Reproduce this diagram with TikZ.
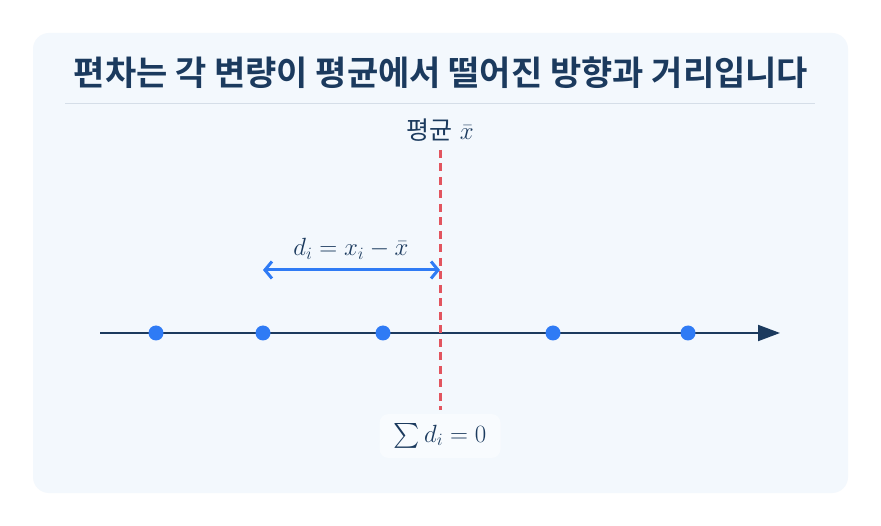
\documentclass[tikz,border=0pt]{standalone}
\usepackage{amsmath}
\usepackage{fontspec}
\newfontfamily\krb{Noto Sans CJK KR Bold}
\newfontfamily\kr{Noto Sans CJK KR}
\usetikzlibrary{arrows.meta}
\definecolor{navy}{HTML}{1B3A5E}
\definecolor{panel}{HTML}{F3F8FD}
\definecolor{sep}{HTML}{D5DEE8}
\definecolor{dotblue}{HTML}{2F7BF5}
\definecolor{meanred}{HTML}{E2555F}
\begin{document}
\begin{tikzpicture}[x=1pt,y=-1pt,
  dotpt/.style={circle,fill=dotblue,inner sep=0pt,minimum size=15pt},
  lbl/.style={text=navy,inner sep=0pt}]
\useasboundingbox (0,0) rectangle (881,526);
\fill[white] (0,0) rectangle (881,526);
\fill[panel,rounded corners=16pt] (33,33) rectangle (848,493);
\node[lbl,font=\krb\fontsize{34}{40}\selectfont] (title) at (441,73) {편차는 각 변량이 평균에서 떨어진 방향과 거리입니다};
\draw[sep,line width=1pt] (65,104) -- (815,104);
% axis
\coordinate (a0) at (100,333);
\coordinate (a1) at (780,333);
\draw[navy,line width=2pt,-{Triangle[length=22pt,width=16pt]}] (a0) -- (a1);
% sum label box (drawn first so the dashed line sits above panel only)
\node[lbl,fill=white!45!panel,rounded corners=9pt,minimum width=121pt,minimum height=44pt,font=\fontsize{25}{30}\selectfont] (sum) at (440,436) {$\sum d_i = 0$};
% mean line
\coordinate (m0) at (440,150);
\coordinate (m1) at (440,410);
\draw[meanred,line width=3pt,dash pattern=on 8pt off 5.5pt] (m0) -- (m1);
\node[lbl,font=\fontsize{25}{30}\selectfont] (meanlbl) at (440,130) {{\kr 평균} $\bar{x}$};
% dots
\node[dotpt] (p1) at (156,333) {};
\node[dotpt] (p2) at (263,333) {};
\node[dotpt] (p3) at (383,333) {};
\node[dotpt] (p4) at (553,333) {};
\node[dotpt] (p5) at (688,333) {};
% deviation arrow
\coordinate (d0) at (263,270);
\coordinate (d1) at (440,270);
\draw[dotblue,line width=3pt,{Straight Barb[length=7pt,width=17pt]}-{Straight Barb[length=7pt,width=17pt]}] (d0) -- (d1);
\node[lbl,font=\fontsize{25}{30}\selectfont] (dlbl) at (351,249) {$d_i = x_i - \bar{x}$};
\end{tikzpicture}
\end{document}
